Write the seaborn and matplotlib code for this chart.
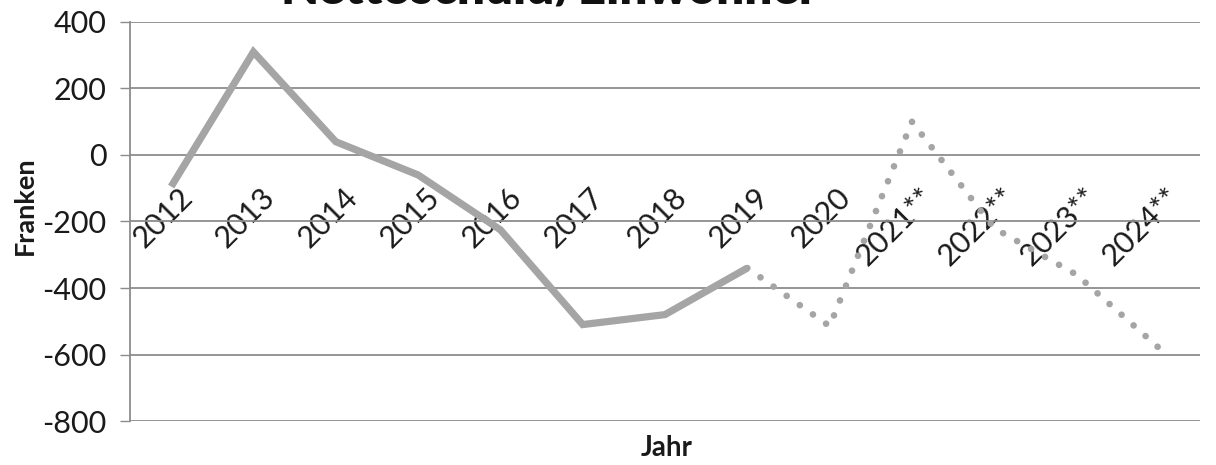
import matplotlib
matplotlib.use("Agg")
import matplotlib.pyplot as plt
import matplotlib.transforms as mtransforms
import seaborn as sns
import pandas as pd

# Net debt per inhabitant (Franken); solid = actual, dotted = forecast
years = ["2012", "2013", "2014", "2015", "2016", "2017", "2018", "2019",
         "2020", "2021**", "2022**", "2023**", "2024**"]
actual = [-95, 310, 40, -60, -225, -510, -480, -340]
forecast = [-340, -515, 100, -220, -360, -580]

y_ticks = [400, 200, 0, -200, -400, -600, -800]

sns.set_theme(style="white")
plt.rcParams["font.family"] = ["Lato", "DejaVu Sans"]

fig = plt.figure(figsize=(12.16, 4.65), dpi=100)
ax = fig.add_axes([130 / 1216, 1 - 421 / 465, (1200 - 130) / 1216, (421 - 22) / 465])

pos = list(range(len(years)))
df_act = pd.DataFrame({"x": pos[:len(actual)], "y": actual})
df_fc = pd.DataFrame({"x": pos[len(actual) - 1:], "y": forecast})

grey = "#a5a5a5"
sns.lineplot(data=df_act, x="x", y="y", ax=ax, color=grey, linewidth=5.2,
             solid_joinstyle="miter", solid_capstyle="butt")
sns.lineplot(data=df_fc, x="x", y="y", ax=ax, color=grey, linewidth=4.8,
             dashes=False)
fc_line = ax.get_lines()[-1]
fc_line.set_linestyle((0, (0.01, 2.4)))
fc_line.set_dash_capstyle("round")

ax.set_xlim(-0.5, len(years) - 0.5)
ax.set_ylim(-800, 400)
ax.set_yticks(y_ticks)
ax.set_yticklabels([str(v) for v in y_ticks], fontsize=22, color="#1a1a1a")
ax.yaxis.grid(True, color="#8c8c8c", linewidth=1.3)
ax.xaxis.grid(False)
ax.tick_params(axis="y", which="major", left=True, length=7, width=1.0,
               color="#8c8c8c", pad=10)

# Category axis crosses at zero
ax.spines["bottom"].set_position(("data", 0))
ax.spines["bottom"].set_visible(False)
for s in ["top", "right"]:
    ax.spines[s].set_visible(False)
ax.spines["left"].set_color("#8c8c8c")
ax.spines["left"].set_linewidth(1.3)

ax.set_xticks(pos)
ax.set_xticklabels(years, fontsize=22, color="#1a1a1a")
ax.tick_params(axis="x", bottom=False, pad=14)
offset = mtransforms.ScaledTranslation(7 / 100, 0, fig.dpi_scale_trans)
for lab in ax.get_xticklabels():
    lab.set_rotation(45)
    lab.set_ha("right")
    lab.set_va("top")
    lab.set_rotation_mode("anchor")
    lab.set_transform(lab.get_transform() + offset)

ax.set_xlabel("")
ax.set_ylabel("")
fig.text(25 / 1216, 1 - 206 / 465, "Franken", rotation=90, fontsize=19.5,
         fontweight="bold", ha="center", va="center", color="#1a1a1a")
fig.text(667 / 1216, 1 - 448 / 465, "Jahr", fontsize=20, fontweight="bold",
         ha="center", va="center", color="#1a1a1a")

title = fig.text(549 / 1216, 1 - 4 / 465, "Nettoschuld/Einwohner", fontsize=32,
                 fontweight="heavy", ha="center", va="baseline", color="#111111")
fig.canvas.draw()
w = title.get_window_extent().width
title.set_fontsize(32 * 538 / w)

fig.savefig("out.png", dpi=100)
